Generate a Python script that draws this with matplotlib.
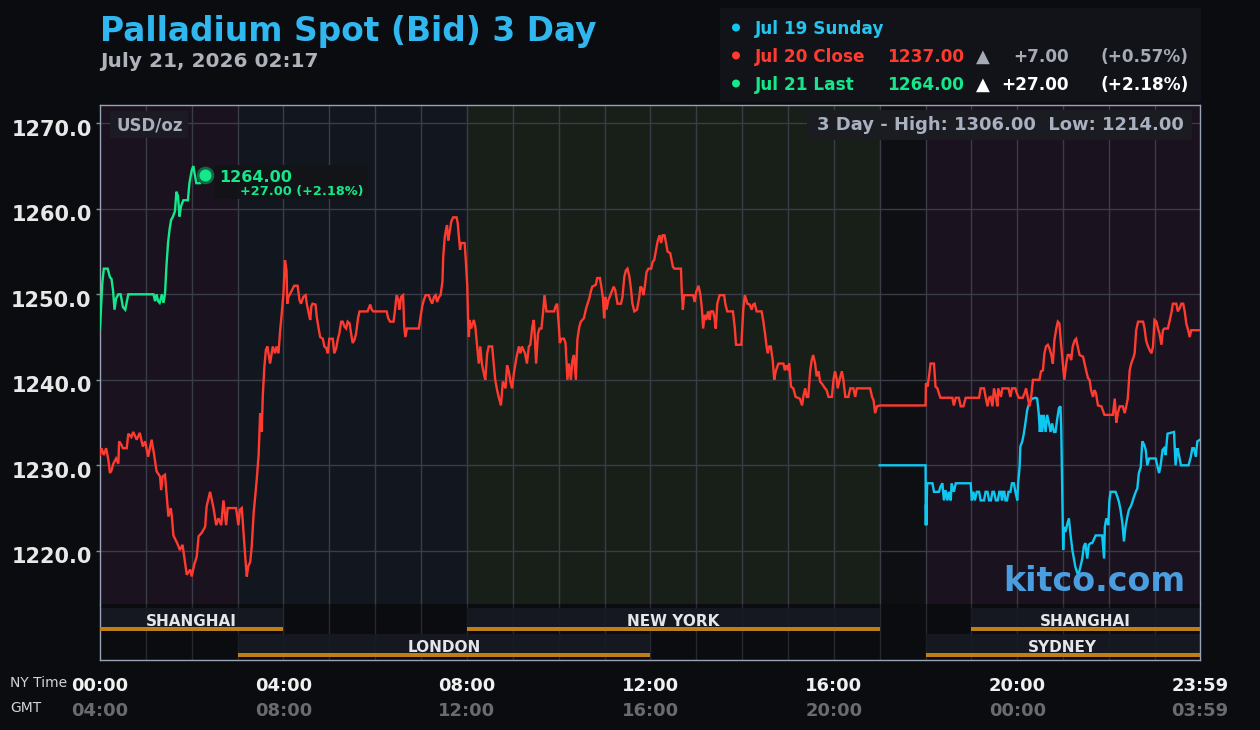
import matplotlib
matplotlib.use("Agg")
import matplotlib.pyplot as plt
from matplotlib.patches import Rectangle, Circle
from matplotlib.transforms import ScaledTranslation, blended_transform_factory

# ---------------- data ----------------
green_points = [(0, 1246.0), (1, 1247.8), (3, 1251.3), (5, 1253.0), (10, 1253.0), (13, 1252.0), (15, 1251.8),
                (17, 1250.5), (19, 1248.2), (21, 1249.5), (24, 1250.0), (27, 1250.0), (30, 1248.5), (33, 1248.2),
                (37, 1250.0), (70, 1250.0), (72, 1249.2), (74, 1250.0), (76, 1249.2), (78, 1249.0), (81, 1250.0),
                (83, 1249.0), (85, 1250.0), (87, 1253.4), (89, 1256.0), (91, 1257.6), (93, 1258.7), (95, 1259.0),
                (98, 1259.7), (100, 1262.0), (102, 1261.5), (104, 1259.1), (106, 1260.3), (109, 1261.0), (115, 1261.0),
                (117, 1263.0), (120, 1264.5), (122, 1265.0), (124, 1264.0), (126, 1263.0), (131, 1263.0), (137, 1264.0)]

red_points = [(0, 1231.2), (2, 1232.0), (5, 1231.2), (8, 1232.0), (11, 1230.6), (13, 1229.1), (15, 1229.4), (17.5, 1230.2),
              (21, 1230.8), (24, 1230.2), (25, 1232.8), (28, 1232.4), (30, 1232.0), (35, 1232.0), (37, 1233.7), (41, 1233.3),
              (43.5, 1233.9), (48, 1233.0), (52, 1233.8), (56, 1232.2), (59, 1232.8), (63, 1231.0), (67.5, 1233.0), (70.5, 1231.4),
              (74, 1229.3), (78.5, 1228.7), (80, 1227.1), (82, 1228.7), (85, 1228.9), (87, 1226.7), (89.5, 1224.0), (92.5, 1225.0),
              (94, 1224.0), (96, 1221.8), (101, 1220.9), (104.5, 1220.1), (108, 1220.7), (110.5, 1219.1), (113.5, 1217.2),
              (118, 1217.8), (120, 1217.0), (123, 1218.3), (126.5, 1219.3), (129, 1221.7), (133, 1222.1), (137.5, 1222.8),
              (139.5, 1225.2), (144, 1226.9), (148.5, 1225.0), (152, 1223.0), (155, 1223.8), (158.5, 1223.0), (161.5, 1225.9),
              (165, 1223.0), (167, 1225.0), (178, 1225.0), (181, 1223.0), (183, 1224.8), (185.5, 1225.0), (187.5, 1222.4),
              (190, 1219.3), (192, 1217.0), (194, 1218.2), (196.5, 1218.7), (198.5, 1220.5), (201, 1224.4), (203, 1226.3),
              (205, 1228.3), (207.5, 1231.2), (209.5, 1236.1), (211.5, 1233.9), (213, 1238.2), (215, 1241.5), (217, 1243.5),
              (219, 1243.9), (222.5, 1241.9), (226, 1243.9), (229, 1243.1), (231, 1243.9), (233.5, 1243.1), (235.5, 1245.6),
              (238, 1248.0), (240, 1250.1), (242, 1254.0), (244, 1252.8), (245, 1248.9), (246.5, 1249.7), (249, 1250.1),
              (254, 1251.0), (258.5, 1251.0), (261, 1249.3), (263, 1248.9), (266, 1249.7), (269, 1249.9), (270.5, 1248.9),
              (273, 1247.8), (275, 1247.0), (276.5, 1248.6), (278, 1248.9), (282, 1248.8), (283.5, 1247.4), (286, 1246.0),
              (288, 1245.0), (291.5, 1244.8), (293.5, 1243.9), (296, 1243.7), (298, 1243.1), (300, 1244.8), (304.5, 1244.8),
              (306.5, 1243.1), (309, 1243.7), (311, 1244.7), (313, 1245.4), (315.5, 1246.8), (317.5, 1246.8), (320, 1246.2),
              (322, 1246.0), (324, 1246.8), (326.5, 1246.6), (328.5, 1245.4), (330.5, 1244.3), (333, 1244.7), (335, 1245.4),
              (337.5, 1247.2), (339.5, 1248.0), (350, 1248.0), (353.5, 1248.8), (355.5, 1248.2), (357.5, 1248.0), (375, 1248.0),
              (377, 1247.2), (379.5, 1246.8), (384, 1246.8), (386, 1248.2), (388, 1249.9), (390.5, 1249.3), (391.5, 1248.2),
              (394, 1249.7), (396.5, 1249.9), (398, 1246.2), (399.5, 1245.0), (401.5, 1246.0), (417, 1246.0), (419.5, 1247.4),
              (421.5, 1248.6), (423.5, 1249.3), (426, 1249.9), (430, 1249.9), (432.5, 1249.3), (434.5, 1248.9), (437, 1249.7),
              (439, 1249.9), (441, 1249.1), (443.5, 1249.7), (445.5, 1249.9), (448, 1251.5), (449, 1254.4), (451, 1256.7),
              (453, 1257.7), (454, 1258.1), (455.5, 1256.3), (457.5, 1257.3), (459.5, 1258.5), (462, 1259.0), (466.5, 1259.0),
              (468, 1258.3), (469.5, 1256.7), (471, 1255.2), (472.5, 1256.0), (477, 1256.0), (478.5, 1254.0), (480.5, 1250.9),
              (481.5, 1247.0), (482.5, 1245.0), (483.5, 1247.0), (485.5, 1246.0), (489, 1247.0), (491, 1246.2), (493, 1244.3),
              (495.5, 1241.9), (497.5, 1243.9), (499.5, 1241.9), (502, 1240.8), (504, 1240.0), (506.5, 1243.1), (508.5, 1243.9),
              (513, 1243.9), (515, 1241.9), (517, 1240.0), (519.5, 1238.8), (521.5, 1238.0), (524.5, 1237.0), (527, 1239.8),
              (530.5, 1239.0), (532.5, 1241.7), (534.5, 1241.1), (537, 1239.8), (539, 1239.0), (541.5, 1240.8), (545, 1242.7),
              (548, 1243.9), (550, 1243.1), (552, 1243.9), (556, 1243.1), (558.5, 1241.9), (561, 1243.9), (563, 1244.1),
              (565.5, 1246.2), (567.5, 1247.0), (569, 1244.7), (570.5, 1241.9), (573, 1245.4), (575, 1246.0), (577.5, 1246.0),
              (579.5, 1247.8), (581.5, 1249.9), (584, 1248.0), (594, 1248.0), (596, 1248.6), (598, 1248.9), (600.5, 1246.0),
              (601.5, 1244.3), (603.5, 1244.8), (607, 1244.8), (609, 1244.3), (611.5, 1240.0), (613.5, 1241.9), (616, 1240.0),
              (618, 1242.3), (620, 1242.9), (622.5, 1240.0), (624.5, 1244.7), (627, 1246.2), (629, 1246.8), (633, 1247.2),
              (635.5, 1248.2), (637.5, 1248.8), (640, 1249.5), (642, 1250.3), (644, 1250.9), (648.5, 1251.1), (650.5, 1251.9),
              (654, 1251.9), (656.5, 1250.5), (658, 1249.5), (659.5, 1247.2), (661, 1249.7), (662.5, 1248.2), (665, 1249.3),
              (668.5, 1250.1), (672, 1250.9), (674, 1250.5), (677, 1248.9), (681.5, 1248.9), (683.5, 1249.7), (686, 1252.1),
              (688, 1252.8), (690, 1253.0), (692.5, 1252.1), (694.5, 1250.7), (696.5, 1248.9), (699, 1248.0), (702.5, 1248.2),
              (705.5, 1249.7), (707, 1250.9), (709, 1250.7), (711, 1249.9), (713, 1251.1), (715, 1252.6), (717.5, 1253.0),
              (721, 1253.0), (723, 1253.8), (725, 1254.0), (727.5, 1255.2), (729.5, 1256.2), (732, 1256.9), (734, 1256.0),
              (736, 1256.9), (738.5, 1256.9), (740.5, 1256.0), (742.5, 1255.0), (746, 1254.8), (749.5, 1253.2), (751.5, 1253.0),
              (760, 1253.0), (761, 1250.5), (762.5, 1248.2), (764, 1249.9), (776, 1249.9), (778, 1249.1), (780, 1250.3),
              (783, 1251.0), (785.5, 1249.9), (787.5, 1248.2), (789, 1246.0), (791, 1247.6), (793, 1247.0), (795.5, 1248.0),
              (797.5, 1247.0), (799, 1248.0), (802, 1248.0), (804, 1247.2), (805.5, 1246.0), (807.5, 1248.9), (810.5, 1249.9),
              (816.5, 1249.9), (818, 1248.9), (820.5, 1248.0), (828, 1248.0), (830.5, 1246.0), (832, 1244.1), (839, 1244.1),
              (841.5, 1248.2), (843.5, 1249.9), (847, 1248.9), (850, 1248.8), (852.5, 1248.2), (854.5, 1248.8), (856.5, 1248.9),
              (859, 1248.0), (865.5, 1248.0), (867.5, 1247.0), (870, 1245.4), (872, 1243.9), (873.5, 1243.1), (875.5, 1243.9),
              (877.5, 1243.9), (880, 1242.3), (882, 1240.0), (884, 1241.0), (887.5, 1241.9), (894, 1241.9), (896, 1241.1),
              (898, 1241.7), (900.5, 1241.1), (901.5, 1241.9), (904, 1239.2), (907, 1239.0), (910, 1238.0), (915.5, 1237.8),
              (918.5, 1237.0), (920, 1238.0), (922.5, 1239.0), (924.5, 1238.0), (926.5, 1238.0), (929, 1241.0), (931, 1242.3),
              (933, 1242.9), (935.5, 1241.9), (937.5, 1240.4), (940, 1241.0), (942, 1239.8), (944, 1239.6), (948.5, 1239.0),
              (950.5, 1238.8), (953, 1238.0), (957.5, 1238.0), (959.5, 1240.0), (961.5, 1241.0), (964, 1240.0), (965, 1239.0),
              (967.5, 1240.0), (970.5, 1241.0), (972.5, 1240.0), (975, 1238.0), (979, 1238.0), (981.5, 1239.0), (985.5, 1239.0),
              (988, 1238.0), (990, 1239.0), (1007.5, 1239.0), (1010, 1238.0), (1012, 1237.6), (1014, 1236.1), (1016.5, 1236.9),
              (1020, 1237.0), (1080, 1237.0), (1080.5, 1239.6), (1082.5, 1239.2), (1084.5, 1240.4), (1086.5, 1241.9),
              (1091, 1241.9), (1093, 1239.2), (1095.5, 1239.0), (1097.5, 1238.4), (1099.5, 1237.9), (1115, 1237.9),
              (1117, 1237.0), (1119.5, 1237.9), (1123.5, 1237.9), (1126, 1236.9), (1129.5, 1236.9), (1132.5, 1237.9),
              (1150, 1237.9), (1152, 1239.0), (1156.5, 1239.0), (1158.5, 1238.0), (1161, 1236.9), (1163, 1237.9),
              (1165, 1238.0), (1167.5, 1236.9), (1169.5, 1239.0), (1172, 1238.0), (1174, 1236.9), (1175, 1239.0),
              (1178.5, 1238.0), (1180.5, 1239.0), (1188.5, 1239.0), (1191, 1238.0), (1193, 1239.0), (1197.5, 1239.0),
              (1199.5, 1238.4), (1202, 1237.9), (1207, 1237.9), (1209.5, 1238.4), (1211.5, 1239.0), (1213.5, 1238.0),
              (1216, 1236.9), (1218, 1237.9), (1220.5, 1240.0), (1229, 1240.0), (1231, 1241.0), (1233.5, 1241.1),
              (1235.5, 1243.1), (1237.5, 1243.9), (1240, 1244.1), (1242, 1243.7), (1244.5, 1242.9), (1246.5, 1241.9),
              (1248.5, 1244.6), (1251, 1246.0), (1253, 1246.8), (1255, 1246.6), (1257.5, 1243.9), (1259.5, 1241.9),
              (1261.5, 1240.0), (1264, 1241.9), (1266, 1242.9), (1268.5, 1242.9), (1270.5, 1242.3), (1272.5, 1243.9),
              (1275, 1244.6), (1277, 1244.8), (1279, 1243.9), (1281.5, 1242.9), (1286, 1242.7), (1288, 1241.9),
              (1290, 1241.1), (1292.5, 1240.2), (1294.5, 1240.0), (1296.5, 1238.8), (1299, 1238.0), (1301, 1238.8),
              (1303, 1238.4), (1305.5, 1237.0), (1310, 1236.9), (1314, 1235.9), (1325, 1235.9), (1327.5, 1237.8),
              (1329.5, 1235.0), (1331.5, 1236.1), (1334, 1236.9), (1338, 1236.9), (1340.5, 1236.1), (1342.5, 1236.9),
              (1344.5, 1237.8), (1347, 1241.1), (1349, 1241.9), (1351.5, 1242.5), (1353.5, 1243.1), (1355.5, 1245.8),
              (1358, 1246.8), (1364.5, 1246.8), (1366.5, 1246.0), (1368.5, 1244.6), (1371, 1243.9), (1373, 1243.5),
              (1375.5, 1243.1), (1377.5, 1243.9), (1379.5, 1247.0), (1382, 1246.8), (1384, 1246.0), (1386, 1245.4),
              (1388.5, 1244.1), (1390.5, 1245.8), (1392.5, 1246.0), (1397, 1246.0), (1399.5, 1247.0), (1401.5, 1247.8),
              (1403.5, 1248.9), (1408, 1248.9), (1410, 1248.0), (1412.5, 1248.4), (1414.5, 1248.9), (1417, 1248.9),
              (1419, 1248.0), (1421, 1246.6), (1423.5, 1245.8), (1425.5, 1245.0), (1427.5, 1245.8), (1439, 1245.8)]

cyan_points = [(1020, 1230.0), (1080, 1230.0), (1080.3, 1223.0), (1080.6, 1225.4), (1081, 1223.0), (1082, 1227.9),
               (1089, 1227.9), (1091, 1226.9), (1097.5, 1226.9), (1099.5, 1227.5), (1102, 1227.9), (1104, 1225.9),
               (1106, 1227.1), (1108.5, 1225.9), (1110.5, 1226.9), (1113, 1225.9), (1114, 1227.9), (1117, 1226.9),
               (1119.5, 1227.9), (1139, 1227.9), (1140.5, 1225.9), (1142.5, 1226.9), (1144.5, 1225.9), (1147, 1226.9),
               (1150, 1226.9), (1152, 1225.9), (1156.5, 1225.9), (1158.5, 1226.9), (1161, 1226.9), (1163, 1225.9),
               (1165.5, 1225.9), (1167.5, 1226.9), (1169.5, 1226.9), (1172, 1225.9), (1174.5, 1225.9), (1176.5, 1226.9),
               (1178.5, 1226.9), (1180, 1225.9), (1181.5, 1226.9), (1183, 1226.9), (1184.5, 1225.9), (1186.5, 1225.9),
               (1188.5, 1226.9), (1191, 1226.9), (1193, 1227.9), (1195.5, 1227.9), (1197.5, 1226.9), (1200, 1225.9),
               (1201, 1227.9), (1203, 1229.8), (1204, 1232.2), (1206.5, 1232.8), (1208.5, 1233.7), (1210.5, 1234.9),
               (1213, 1236.5), (1215, 1237.1), (1217.5, 1237.6), (1219.5, 1237.8), (1224, 1237.9), (1226, 1237.8),
               (1228, 1236.1), (1229.5, 1233.9), (1231, 1235.9), (1232.5, 1233.9), (1234.5, 1235.9), (1237, 1233.9),
               (1239, 1235.9), (1241.5, 1234.9), (1243.5, 1233.9), (1245.5, 1234.9), (1248, 1233.9), (1250, 1233.9),
               (1252, 1235.3), (1254.5, 1236.7), (1256.5, 1236.9), (1257.5, 1234.1), (1258.5, 1228.5), (1259.5, 1222.8),
               (1260, 1220.1), (1261, 1222.8), (1263, 1222.2), (1265, 1223.0), (1267.5, 1223.8), (1269.5, 1222.0),
               (1272, 1220.1), (1274, 1219.1), (1276, 1218.1), (1278.5, 1217.4), (1280.5, 1217.4), (1282.5, 1218.1),
               (1285, 1219.1), (1287, 1220.5), (1289, 1220.9), (1291.5, 1219.1), (1293.5, 1220.7), (1296, 1220.9),
               (1298, 1220.9), (1302.5, 1221.8), (1311, 1221.8), (1313.5, 1219.1), (1314.5, 1222.8), (1316.5, 1223.8),
               (1319, 1223.0), (1320.5, 1225.9), (1322, 1226.9), (1328.5, 1226.9), (1331, 1226.3), (1333, 1225.7),
               (1335, 1224.8), (1337.5, 1223.2), (1339.5, 1221.1), (1341.5, 1222.8), (1344, 1224.0), (1346, 1224.8),
               (1348.5, 1225.2), (1350.5, 1225.7), (1352.5, 1226.3), (1355, 1226.9), (1357, 1227.3), (1359, 1229.1),
               (1361.5, 1229.8), (1363.5, 1232.8), (1366, 1232.4), (1368, 1231.8), (1370, 1230.0), (1372.5, 1230.8),
               (1381, 1230.8), (1383, 1230.0), (1385.5, 1229.1), (1387.5, 1230.0), (1390, 1231.8), (1392, 1232.0),
               (1394, 1231.2), (1396.5, 1233.7), (1405, 1233.9), (1406.5, 1231.0), (1407, 1230.0), (1409.5, 1232.0),
               (1411.5, 1231.2), (1414, 1230.0), (1424, 1230.0), (1427, 1231.0), (1429, 1232.0), (1431, 1232.0),
               (1433.5, 1231.0), (1435.5, 1232.8), (1439, 1233.0)]

y_ticks = [1220, 1230, 1240, 1250, 1260, 1270]
x_tick_minutes = [0, 240, 480, 720, 960, 1200, 1439]
x_tick_ny = ["00:00", "04:00", "08:00", "12:00", "16:00", "20:00", "23:59"]
x_tick_gmt = ["04:00", "08:00", "12:00", "16:00", "20:00", "00:00", "03:59"]

zone_start_h = [0, 3, 8, 17, 18]
zone_end_h = [3, 8, 17, 18, 24]
zone_colors = ["#1a121f", "#12161f", "#171f18", "#0e0f13", "#1a121f"]

session_names = ["SHANGHAI", "NEW YORK", "SHANGHAI", "LONDON", "SYDNEY"]
session_start_h = [0, 8, 19, 3, 18]
session_end_h = [4, 17, 24, 12, 24]
session_row = [0, 0, 0, 1, 1]

legend_labels = ["Jul 19 Sunday", "Jul 20 Close", "Jul 21 Last"]
legend_values = [None, 1237.00, 1264.00]
legend_changes = [None, 7.00, 27.00]
legend_pcts = [None, 0.57, 2.18]

title = "Palladium Spot (Bid) 3 Day"
subtitle = "July 21, 2026 02:17"
high_3day, low_3day = 1306.00, 1214.00

# ---------------- style ----------------
W, H = 1260, 730
BG = "#0b0c10"
GRID = "#3a3c47"
BORDER = "#9aa3b5"
RED = "#ff3b30"
GREEN = "#14e88a"
CYAN = "#0fc8f2"
series_colors = [CYAN, RED, GREEN]

fig = plt.figure(figsize=(W / 100, H / 100), dpi=100, facecolor=BG)


def fbox(x0, y0, x1, y1):
    return [x0 / W, 1 - y1 / H, (x1 - x0) / W, (y1 - y0) / H]


ax = fig.add_axes(fbox(100, 105, 1200, 604))
ax2 = fig.add_axes(fbox(100, 604, 1200, 660))

XMAX = 1439
ax.set_xlim(0, XMAX)
ax.set_ylim(1213.78, 1272.14)
ax.set_facecolor(BG)

for s, e, c in zip(zone_start_h, zone_end_h, zone_colors):
    ax.axvspan(s * 60, min(e * 60, XMAX), color=c, lw=0, zorder=0)

for yv in y_ticks:
    ax.axhline(yv, color=GRID, lw=1, zorder=1)
for h in range(1, 24):
    ax.axvline(h * 60, color=GRID, lw=1, zorder=1)

for pts, col in zip([cyan_points, red_points, green_points], series_colors):
    t, p = zip(*pts)
    ax.plot(t, p, color=col, lw=1.7, zorder=3, solid_joinstyle="miter")

# last point marker
gt, gp = green_points[-1]
ax.scatter([gt], [gp], s=160, color="#0e6a42", zorder=4, lw=0)
ax.scatter([gt], [gp], s=75, color=GREEN, zorder=5, lw=0)

ax.set_yticks(y_ticks)
ax.set_yticklabels([f"{v:.1f}" for v in y_ticks], fontsize=15, fontweight="bold", color="#e8e8e8")
ax.tick_params(axis="y", length=3, width=1, color="#8a8f99", pad=3)
for lbl in ax.get_yticklabels():
    lbl.set_transform(lbl.get_transform() + ScaledTranslation(0, -4.5 / 100, fig.dpi_scale_trans))
ax.set_xticks([])
for side in ["top", "left", "right"]:
    ax.spines[side].set_color(BORDER)
    ax.spines[side].set_linewidth(1)
ax.spines["bottom"].set_visible(False)

# session axis
ax2.set_xlim(0, XMAX)
ax2.set_ylim(56, 0)
ax2.set_facecolor(BG)
for h in range(1, 24):
    ax2.axvline(h * 60, color="#272931", lw=1, zorder=1)
for name, s, e, r in zip(session_names, session_start_h, session_end_h, session_row):
    top = 4 + r * 26
    x0, x1 = s * 60, min(e * 60, XMAX)
    ax2.add_patch(Rectangle((x0, top), x1 - x0, 23, facecolor="#161a22", edgecolor="none", alpha=0.92, zorder=2))
    ax2.add_patch(Rectangle((x0, top + 19), x1 - x0, 4, facecolor="#bf7f16", edgecolor="none", zorder=3))
    ax2.text((x0 + x1) / 2, top + 13, name, ha="center", va="center", fontsize=11, fontweight="bold",
             color="#e4e6ea", zorder=4)
ax2.set_xticks([])
ax2.set_yticks([])
for side in ["bottom", "left", "right"]:
    ax2.spines[side].set_color(BORDER)
    ax2.spines[side].set_linewidth(1)
ax2.spines["top"].set_visible(False)

# x tick labels (NY time and GMT)
tr = blended_transform_factory(ax2.transData, fig.transFigure)
for m, ny, gmt in zip(x_tick_minutes, x_tick_ny, x_tick_gmt):
    ax2.text(m, 1 - 686 / H, ny, transform=tr, ha="center", va="center", fontsize=13, fontweight="bold",
             color="#f0f0f0", clip_on=False)
    ax2.text(m, 1 - 711 / H, gmt, transform=tr, ha="center", va="center", fontsize=13, fontweight="bold",
             color="#6b6b6e", clip_on=False)

# ---------------- overlay (pixel coordinates) ----------------
ov = fig.add_axes([0, 0, 1, 1])
ov.set_xlim(0, W)
ov.set_ylim(H, 0)
ov.axis("off")

ov.text(100, 41, title, fontsize=23.7, fontweight="bold", color="#30b7f0", va="baseline", ha="left")
ov.text(100, 67, subtitle, fontsize=14.5, fontweight="bold", color="#aeb2ba", va="baseline", ha="left")
ov.text(10, 683, "NY Time", fontsize=10, color="#d4d4d4", va="center", ha="left")
ov.text(10, 708, "GMT", fontsize=10, color="#d4d4d4", va="center", ha="left")

# legend panel
ov.add_patch(Rectangle((720, 8), 481, 94, facecolor="#111318", edgecolor="none"))
row_y = [34, 62, 90]
text_cols = ["#22c4f0", RED, GREEN]
num_cols = [None, "#a6aab4", "#ffffff"]
for i, lab in enumerate(legend_labels):
    y = row_y[i]
    ov.add_patch(Circle((736, y - 6.5), 4, facecolor=series_colors[i], edgecolor="none"))
    ov.text(755, y, lab, fontsize=12.2, fontweight="bold", color=text_cols[i], va="baseline", ha="left")
    if legend_values[i] is not None:
        ov.text(887, y, f"{legend_values[i]:.2f}", fontsize=12.2, fontweight="bold", color=text_cols[i],
                va="baseline", ha="left")
        ov.text(983, y, "\u25B2", fontsize=13, fontweight="bold", color=num_cols[i], va="baseline", ha="center")
        ov.text(1069, y, f"+{legend_changes[i]:.2f}", fontsize=12.2, fontweight="bold", color=num_cols[i],
                va="baseline", ha="right")
        ov.text(1101, y, f"(+{legend_pcts[i]:.2f}%)", fontsize=12.2, fontweight="bold", color=num_cols[i],
                va="baseline", ha="left")

# USD/oz label
ov.add_patch(Rectangle((110, 111), 78, 27, facecolor="#1c1b24", edgecolor="none"))
ov.text(116, 125.5, "USD/oz", fontsize=12, fontweight="bold", color="#a9aebb", va="center", ha="left")

# 3 day high / low
ov.add_patch(Rectangle((807, 110), 385, 30, facecolor="#1a1c22", edgecolor="none"))
ov.text(1184, 125.5, f"3 Day - High: {high_3day:.2f}  Low: {low_3day:.2f}", fontsize=13, fontweight="bold",
        color="#a9b0bf", va="center", ha="right")

# last value callout next to the marker
px, py = ax.transData.transform((gt, gp))
py = H - py
chg = legend_changes[2]
pct = legend_pcts[2]
ov.add_patch(Rectangle((px + 10, py - 10), 153, 34, facecolor="#131417", edgecolor="none", alpha=0.95))
ov.text(px + 14, py + 2.5, f"{gp:.2f}", fontsize=11.5, fontweight="bold", color=GREEN, va="center", ha="left")
ov.text(px + 159, py + 16.5, f"+{chg:.2f} (+{pct:.2f}%)", fontsize=9.3, fontweight="bold", color=GREEN,
        va="center", ha="right")

# watermark
ov.text(1185, 591, "kitco.com", fontsize=24, fontweight="bold", color="#4a9edf", va="baseline", ha="right")

fig.savefig("out.png", dpi=100, facecolor=BG)
